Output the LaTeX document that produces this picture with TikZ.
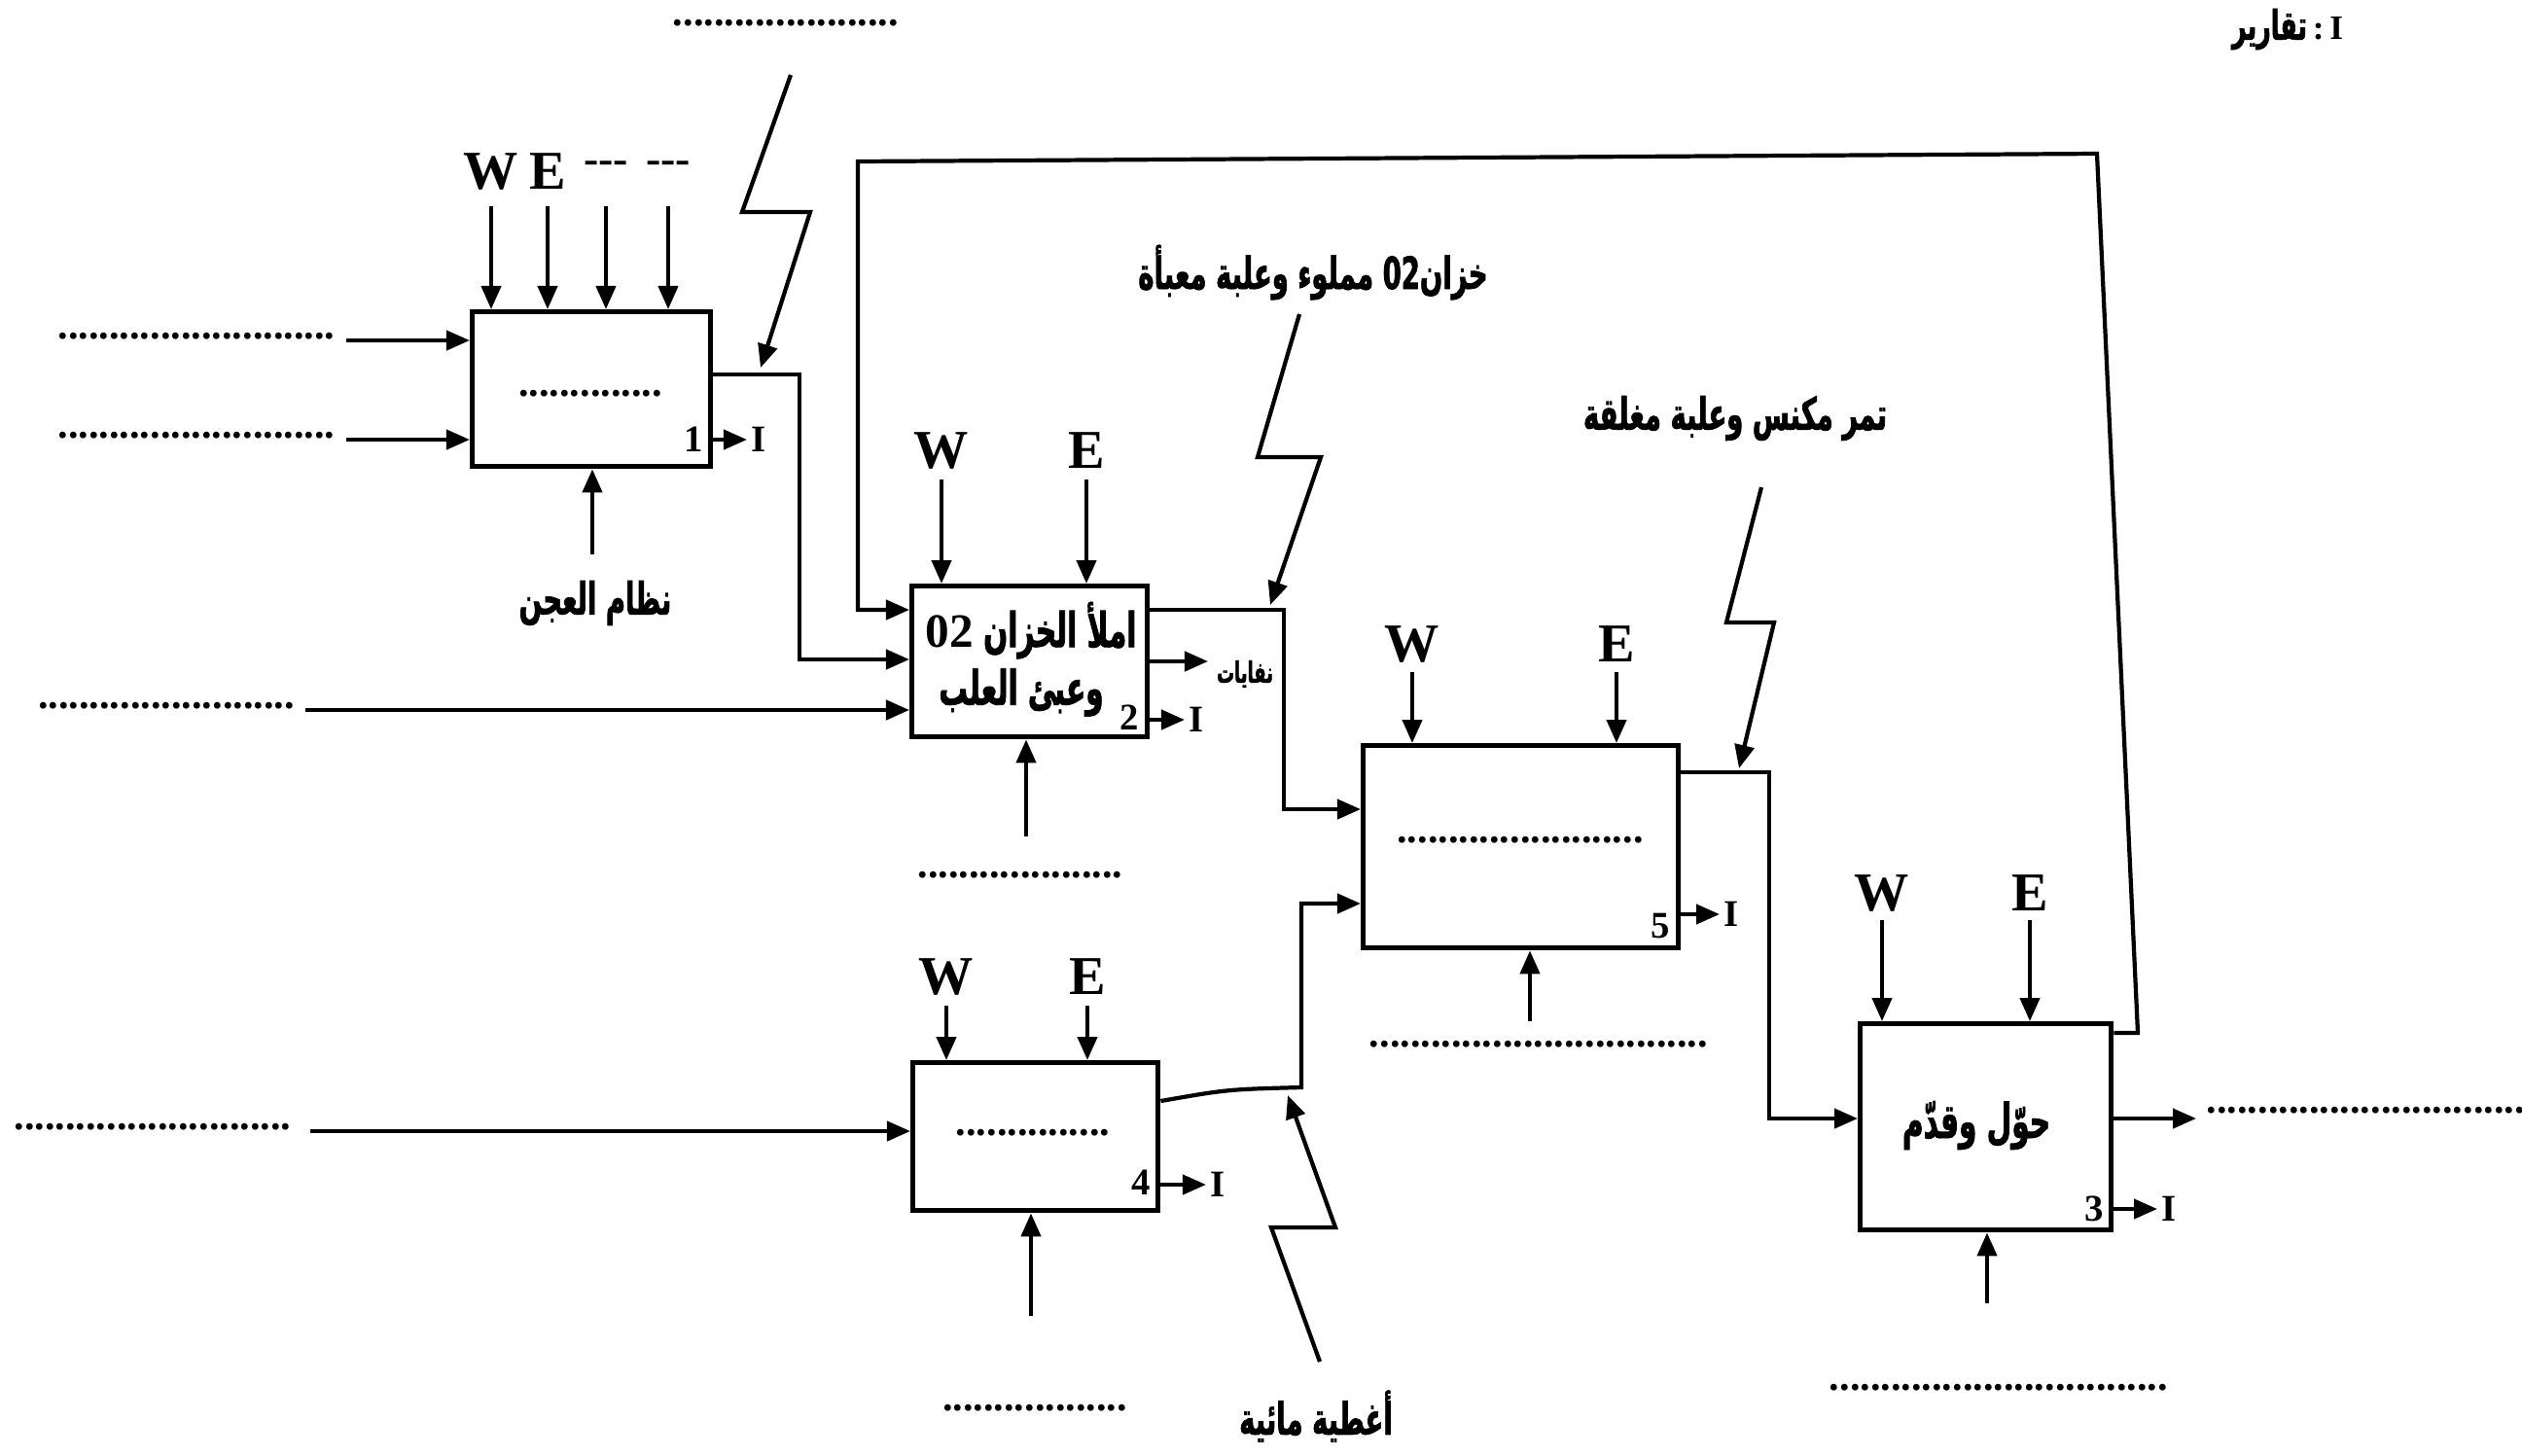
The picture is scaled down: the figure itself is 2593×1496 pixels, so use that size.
\documentclass[tikz,border=0pt]{standalone}
\usepackage{fontspec}
\setmainfont{Liberation Serif}
\newfontfamily\arabicfont[Script=Arabic, FakeStretch=0.6, BoldFeatures={FakeBold=1.5}]{DejaVu Sans}
\newfontfamily\arabicplain[Script=Arabic]{DejaVu Sans}
\TeXXeTstate=1
\usetikzlibrary{arrows.meta}
\newcommand\dotrow[1]{\foreach\k in {1,...,#1}{.}}
\tikzset{
 box/.style={draw, line width=1.5pt, anchor=north west, inner sep=0pt},
 ln/.style={line width=1.2pt},
 arr/.style={ln, -{Triangle[length=0.24cm,width=0.2cm]}},
 lat/.style={font=\fontsize{16}{16}\selectfont\bfseries, inner sep=0pt},
 sml/.style={font=\fontsize{13}{13}\selectfont\bfseries, inner sep=0pt},
 num/.style={font=\fontsize{11}{11}\selectfont\bfseries, inner sep=0pt},
 ar/.style={font=\arabicfont\bfseries\fontsize{13}{15}\selectfont, inner sep=0pt},
 arb/.style={font=\arabicfont\bfseries\fontsize{14}{16}\selectfont, inner sep=0pt},
 dots/.style={font=\fontsize{12}{12}\selectfont\bfseries, inner sep=0pt},
}
\begin{document}
\begin{tikzpicture}[x=0.01cm,y=-0.01cm]
\useasboundingbox (0,0) rectangle (2593,1496);
% boxes
\node[box, minimum width=2.45cm, minimum height=1.59cm] (b1) at (483,318) {};
\node[box, minimum width=2.42cm, minimum height=1.55cm] (b2) at (935,600) {};
\node[box, minimum width=2.52cm, minimum height=1.52cm] (b4) at (936,1090) {};
\node[box, minimum width=3.24cm, minimum height=2.08cm] (b5) at (1399,764) {};
\node[box, minimum width=2.58cm, minimum height=2.12cm] (b3) at (1910,1050) {};

% top dots and legend
\node[dots] (topd) at (808,24) {\dotrow{22}};
\node[font=\fontsize{10}{10}\selectfont\bfseries, inner sep=0pt] (leg) at (2352,30) {{\arabicfont\bfseries\fontsize{12}{12}\selectfont\beginR تقارير\endR}\,:\,I};

% ---------- box 1 ----------
\node[dots] (t1) at (607,405) {\dotrow{14}};
\node[lat] (c1l1) at (505,176) {W};
\node[lat] (c1l2) at (563,176) {E};
\node[sml] (c1l3) at (623,172) {-{}-{}-};
\node[sml] (c1l4) at (687,172) {-{}-{}-};
\coordinate (c1a) at (505,212); \draw[arr] (c1a) -- (c1a |- b1.north);
\coordinate (c1b) at (563,212); \draw[arr] (c1b) -- (c1b |- b1.north);
\coordinate (c1c) at (623,212); \draw[arr] (c1c) -- (c1c |- b1.north);
\coordinate (c1d) at (687,212); \draw[arr] (c1d) -- (c1d |- b1.north);
\node[dots] (d1a) at (202,346) {\dotrow{27}};
\node[dots] (d1b) at (202,448) {\dotrow{27}};
\coordinate (s1a) at (356,350); \draw[arr] (s1a) -- (b1.west |- s1a);
\coordinate (s1b) at (356,452); \draw[arr] (s1b) -- (b1.west |- s1b);
\coordinate (m1) at (609,570); \draw[arr] (m1) -- (m1 |- b1.south);
\node[ar] (m1l) at (612,620) {\beginR نظام العجن\endR};
\node[num, anchor=east] (n1) at (724,452) {1};
\coordinate (q1) at (768,452); \draw[arr] (b1.east |- q1) -- (q1);
\node[num, anchor=west] (i1) at (772,452) {I};
\coordinate (k1) at (822,385); \coordinate (k1b) at (822,678);
\draw[arr] (b1.east |- k1) -- (k1) -- (k1b) -- (b2.west |- k1b);
\coordinate (z1) at (813,77);
\draw[arr] (z1) -- (763,218) -- (833,218) -- (782,378);

% ---------- box 2 ----------
\node[arb] (t2a) at (1060,648) {\beginR املأ الخزان \beginL{\rmfamily\bfseries\fontsize{14}{14}\selectfont 02}\endL\endR};
\node[arb] (t2b) at (1050,712) {\beginR وعبئ العلب\endR};
\node[lat] (c2l1) at (968,463) {W};
\node[lat] (c2l2) at (1117,463) {E};
\coordinate (c2a) at (968,493); \draw[arr] (c2a) -- (c2a |- b2.north);
\coordinate (c2b) at (1117,493); \draw[arr] (c2b) -- (c2b |- b2.north);
\node[dots] (d2) at (171,726) {\dotrow{25}};
\coordinate (s2) at (314,730); \draw[arr] (s2) -- (b2.west |- s2);
\coordinate (m2) at (1055,860); \draw[arr] (m2) -- (m2 |- b2.south);
\node[dots] (m2l) at (1049,900) {\dotrow{20}};
\node[num, anchor=east] (n2) at (1172,738) {2};
\coordinate (q2) at (1218,740); \draw[arr] (b2.east |- q2) -- (q2);
\node[num, anchor=west] (i2) at (1222,740) {I};
\coordinate (w2) at (1242,680); \draw[arr] (b2.east |- w2) -- (w2);
\node[ar, font=\arabicfont\bfseries\fontsize{8.5}{9}\selectfont] (w2l) at (1280,693) {\beginR نفايات\endR};
\coordinate (f1) at (2198,1062); \coordinate (f2) at (2156,158);
\coordinate (f3) at (882,166); \coordinate (f4) at (882,627);
\draw[arr] (b3.east |- f1) -- (f1) -- (f2) -- (f3) -- (f4) -- (b2.west |- f4);
\coordinate (k2) at (1320,627); \coordinate (k2b) at (1320,832);
\draw[arr] (b2.east |- k2) -- (k2) -- (k2b) -- (b5.west |- k2b);
\node[ar] (l2) at (1350,280) {\beginR خزان\beginL 02\endL{} مملوء وعلبة معبأة\endR};
\coordinate (z2) at (1336,323);
\draw[arr] (z2) -- (1293,470) -- (1358,470) -- (1306,622);

% ---------- box 4 ----------
\node[dots] (t4) at (1062,1165) {\dotrow{15}};
\node[lat] (c4l1) at (973,1004) {W};
\node[lat] (c4l2) at (1118,1004) {E};
\coordinate (c4a) at (973,1034); \draw[arr] (c4a) -- (c4a |- b4.north);
\coordinate (c4b) at (1118,1034); \draw[arr] (c4b) -- (c4b |- b4.north);
\node[dots] (d4) at (157,1159) {\dotrow{27}};
\coordinate (s4) at (319,1163); \draw[arr] (s4) -- (b4.west |- s4);
\coordinate (m4) at (1060,1353); \draw[arr] (m4) -- (m4 |- b4.south);
\node[dots] (m4l) at (1064,1448) {\dotrow{18}};
\node[num, anchor=east] (n4) at (1184,1216) {4};
\coordinate (q4) at (1240,1218); \draw[arr] (b4.east |- q4) -- (q4);
\node[num, anchor=west] (i4) at (1244,1218) {I};
\coordinate (k4a) at (1200,1132); \coordinate (k4) at (1338,1118); \coordinate (k4b) at (1338,929);
\draw[arr] (b4.east |- k4a) .. controls (1262,1120) .. (k4) -- (k4b) -- (b5.west |- k4b);
\coordinate (z4) at (1357,1400);
\draw[arr] (z4) -- (1307,1262) -- (1373,1262) -- (1324,1126);
\node[ar] (l4) at (1353,1456) {\beginR أغطية مائية\endR};

% ---------- box 5 ----------
\node[dots] (t5) at (1563,864) {\dotrow{24}};
\node[lat] (c5l1) at (1452,662) {W};
\node[lat] (c5l2) at (1662,662) {E};
\coordinate (c5a) at (1452,691); \draw[arr] (c5a) -- (c5a |- b5.north);
\coordinate (c5b) at (1662,691); \draw[arr] (c5b) -- (c5b |- b5.north);
\coordinate (m5) at (1573,1050); \draw[arr] (m5) -- (m5 |- b5.south);
\node[dots] (m5l) at (1582,1074) {\dotrow{33}};
\node[num, anchor=east] (n5) at (1718,952) {5};
\coordinate (q5) at (1768,940); \draw[arr] (b5.east |- q5) -- (q5);
\node[num, anchor=west] (i5) at (1772,940) {I};
\coordinate (k5) at (1819,794); \coordinate (k5b) at (1819,1150);
\draw[arr] (b5.east |- k5) -- (k5) -- (k5b) -- (b3.west |- k5b);
\node[ar] (l5) at (1784,430) {\beginR تمر مكنس وعلبة مغلقة\endR};
\coordinate (z5) at (1811,501);
\draw[arr] (z5) -- (1775,640) -- (1824,640) -- (1788,790);

% ---------- box 3 ----------
\node[arb] (t3) at (2032,1157) {\beginR حوّل وقدّم\endR};
\node[lat] (c3l1) at (1935,918) {W};
\node[lat] (c3l2) at (2087,918) {E};
\coordinate (c3a) at (1935,946); \draw[arr] (c3a) -- (c3a |- b3.north);
\coordinate (c3b) at (2087,946); \draw[arr] (c3b) -- (c3b |- b3.north);
\coordinate (m3) at (2043,1340); \draw[arr] (m3) -- (m3 |- b3.south);
\node[dots] (m3l) at (2055,1427) {\dotrow{33}};
\node[num, anchor=east] (n3) at (2164,1243) {3};
\coordinate (q3) at (2218,1243); \draw[arr] (b3.east |- q3) -- (q3);
\node[num, anchor=west] (i3) at (2222,1243) {I};
\coordinate (o3) at (2258,1150); \draw[arr] (b3.east |- o3) -- (o3);
\node[dots, anchor=west] (d3) at (2268,1142) {\dotrow{31}};
\end{tikzpicture}
\end{document}
